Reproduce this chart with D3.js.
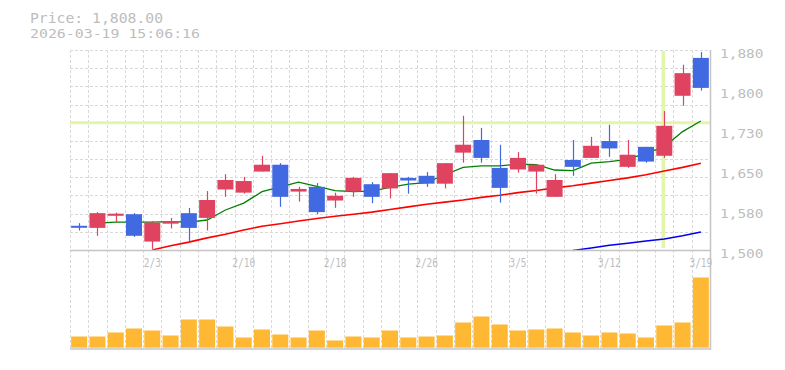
<!DOCTYPE html>
<html>
<head>
<meta charset="utf-8">
<script src="https://cdn.jsdelivr.net/npm/d3@7"></script>
<style>
html,body{margin:0;padding:0;background:#fff;}
svg{display:block;}
</style>
</head>
<body>
<svg id="chart" width="785" height="370"></svg>
<script>
// ---------- data ----------
const dates = ["1/28","1/29","1/30","2/2","2/3","2/4","2/5","2/6","2/9","2/10","2/12","2/13","2/16","2/17","2/18","2/19","2/20","2/24","2/25","2/26","2/27","3/2","3/3","3/4","3/5","3/6","3/9","3/10","3/11","3/12","3/13","3/16","3/17","3/18","3/19"];
const openP  = [1546,1542,1565,1568,1516,1550,1570,1561,1615,1609,1649,1662,1611,1620,1594,1611,1625,1617,1637,1641,1626,1685,1709,1656,1653,1649,1601,1671,1675,1707,1658,1696,1679,1793,1865];
const highP  = [1551,1572,1571,1570,1555,1561,1580,1612,1644,1639,1679,1665,1620,1627,1609,1639,1629,1646,1639,1648,1665,1755,1732,1700,1686,1662,1644,1709,1715,1738,1709,1696,1764,1852,1876];
const lowP   = [1537,1527,1553,1525,1502,1541,1517,1537,1601,1607,1649,1582,1592,1568,1580,1601,1589,1598,1607,1620,1617,1666,1666,1590,1647,1607,1601,1641,1675,1677,1656,1666,1675,1774,1803];
const closeP = [1543,1570,1569,1527,1552,1555,1542,1595,1633,1631,1662,1601,1616,1572,1603,1637,1601,1646,1632,1626,1665,1700,1675,1618,1675,1662,1633,1658,1698,1693,1681,1668,1736,1836,1808];
const volume = [12,12,16,20,18,13,29,29,22,11,19,14,11,18,8,12,11,18,11,12,13,26,32,24,18,19,20,16,13,16,15,11,23,26,71];
const maShort = [null,1551,1553,1553,1553,1554,1553,1557,1576,1589,1611,1620,1629,1621,1613,1611,1612,1619,1625,1628,1643,1657,1660,1660,1663,1662,1652,1651,1665,1668,1672,1684,1696,1725,1745];
const maMid   = [null,null,null,null,1500,1508,1515,1523,1530,1538,1545,1550,1555,1560,1564,1568,1572,1577,1582,1587,1591,1595,1600,1604,1609,1613,1618,1622,1627,1632,1637,1643,1650,1657,1665];
const maLong  = [null,null,null,null,null,null,null,null,null,null,null,null,null,null,null,null,null,null,null,null,null,null,null,null,null,null,null,1499,1504,1509,1513,1517,1521,1527,1534];
const priceTicks = [1500,1576,1652,1728,1804,1880];
const priceTickLabels = ["1,500","1,580","1,650","1,730","1,800","1,880"];
const dateTickLabels = ["2/3","2/10","2/18","2/26","3/5","3/12","3/19"];
const titleLines = ["Price: 1,808.00","2026-03-19 15:06:16"];
const crossIndex = 32;
const crossPrice = 1742;

// ---------- layout ----------
const L = 70, R = 710, T = 50, B = 250, VB = 348.5, VT = 268.5;
const svg = d3.select("#chart");
const idx = d3.range(dates.length);

const x = d3.scaleBand().domain(idx).range([L, R]).paddingInner(0.125).paddingOuter(0.0625);
const y = d3.scaleLinear().domain([1500, 1880]).range([B, T]);
const yv = d3.scaleLinear().domain([0, 80]).range([VB, VT]);
const cx = i => x(i) + x.bandwidth() / 2;

const gridColor = "#d9d9d9";
const axisColor = "#c4c4c4";
const textColor = "#bdbdbd";
const upColor = "#e0435f";
const downColor = "#4169e1";
const hiColor = "#e3f5ab";

// grid: vertical
const g = svg.append("g");
const step = x.step();
d3.range(dates.length).forEach(k => {
  const xx = Math.round(L + k * step) + 0.5;
  g.append("line").attr("x1", xx).attr("x2", xx).attr("y1", T).attr("y2", VB)
    .attr("stroke", gridColor).attr("stroke-width", 1).attr("stroke-dasharray", "3,2");
});
// grid: horizontal
d3.range(11).forEach(k => {
  const yy = Math.round(T + k * (B - T) / 11) + 0.5;
  g.append("line").attr("x1", L).attr("x2", R).attr("y1", yy).attr("y2", yy)
    .attr("stroke", gridColor).attr("stroke-width", 1).attr("stroke-dasharray", "3,2");
});

// highlight crosshair
svg.append("line").attr("x1", L).attr("x2", R).attr("y1", y(crossPrice)).attr("y2", y(crossPrice))
  .attr("stroke", hiColor).attr("stroke-width", 3);
svg.append("line").attr("x1", cx(crossIndex) - 1).attr("x2", cx(crossIndex) - 1).attr("y1", T + 1).attr("y2", B - 2)
  .attr("stroke", hiColor).attr("stroke-width", 3.5);

// moving averages
const mkLine = arr => d3.line().defined(d => d != null).x((d, i) => cx(i)).y(d => y(d))(arr);
svg.append("path").attr("d", mkLine(maLong)).attr("fill", "none").attr("stroke", "#0000ee").attr("stroke-width", 1.5);
svg.append("path").attr("d", mkLine(maMid)).attr("fill", "none").attr("stroke", "#ff0000").attr("stroke-width", 1.6);
svg.append("path").attr("d", mkLine(maShort)).attr("fill", "none").attr("stroke", "#008000").attr("stroke-width", 1.3);

// candles
const cg = svg.append("g");
idx.forEach(i => {
  const up = closeP[i] >= openP[i];
  const col = up ? upColor : downColor;
  const wx = Math.round(cx(i)) + 0.5;
  cg.append("line").attr("x1", wx).attr("x2", wx).attr("y1", y(highP[i])).attr("y2", y(lowP[i]))
    .attr("stroke", col).attr("stroke-width", 1.2);
  const top = y(Math.max(openP[i], closeP[i]));
  const bot = y(Math.min(openP[i], closeP[i]));
  cg.append("rect").attr("x", x(i)).attr("width", x.bandwidth())
    .attr("y", top).attr("height", Math.max(2, bot - top)).attr("fill", col);
});

// volume bars
svg.append("g").selectAll("rect").data(volume).join("rect")
  .attr("x", (d, i) => x(i)).attr("width", x.bandwidth())
  .attr("y", d => yv(d)).attr("height", d => VB - 0.8 - yv(d))
  .attr("fill", "#ffb833");

// axis lines
svg.append("line").attr("x1", L).attr("x2", R + 1).attr("y1", B + 0.5).attr("y2", B + 0.5).attr("stroke", axisColor).attr("stroke-width", 1.5);
svg.append("line").attr("x1", L).attr("x2", R + 1).attr("y1", VB + 0.5).attr("y2", VB + 0.5).attr("stroke", axisColor).attr("stroke-width", 1.5);
svg.append("line").attr("x1", R + 0.5).attr("x2", R + 0.5).attr("y1", T).attr("y2", VB + 1).attr("stroke", axisColor).attr("stroke-width", 1.5);

// y axis (right)
const yAxis = d3.axisRight(y).tickValues(priceTicks).tickSize(0).tickPadding(0)
  .tickFormat((d, i) => priceTickLabels[i]);
const ya = svg.append("g").attr("transform", `translate(${R + 10},0)`).call(yAxis);
ya.select(".domain").remove();
ya.selectAll("text").attr("fill", textColor).attr("font-family", "'DejaVu Sans Mono', monospace")
  .attr("font-size", 13).attr("dy", "0.56em").attr("x", 0)
  .attr("textLength", 43.5).attr("lengthAdjust", "spacingAndGlyphs");

// x axis
const xTickIdx = dateTickLabels.map(l => dates.indexOf(l));
const xAxis = d3.axisBottom(x).tickValues(xTickIdx).tickSize(0).tickPadding(0)
  .tickFormat(i => dates[i]);
const xa = svg.append("g").attr("transform", `translate(0,${B})`).call(xAxis);
xa.select(".domain").remove();
xa.selectAll("text").attr("fill", textColor).attr("font-family", "'DejaVu Sans Mono', monospace")
  .attr("font-size", 12).attr("y", 17).attr("dy", 0)
  .attr("textLength", function() { return this.textContent.length * 5.7; })
  .attr("lengthAdjust", "spacingAndGlyphs");

// title
svg.append("text").attr("x", 30).attr("y", 22.5).text(titleLines[0])
  .attr("fill", textColor).attr("font-family", "'DejaVu Sans Mono', monospace").attr("font-size", 14)
  .attr("textLength", 133).attr("lengthAdjust", "spacingAndGlyphs");
svg.append("text").attr("x", 30).attr("y", 37.5).text(titleLines[1])
  .attr("fill", textColor).attr("font-family", "'DejaVu Sans Mono', monospace").attr("font-size", 13)
  .attr("textLength", 170).attr("lengthAdjust", "spacingAndGlyphs");
</script>
</body>
</html>
